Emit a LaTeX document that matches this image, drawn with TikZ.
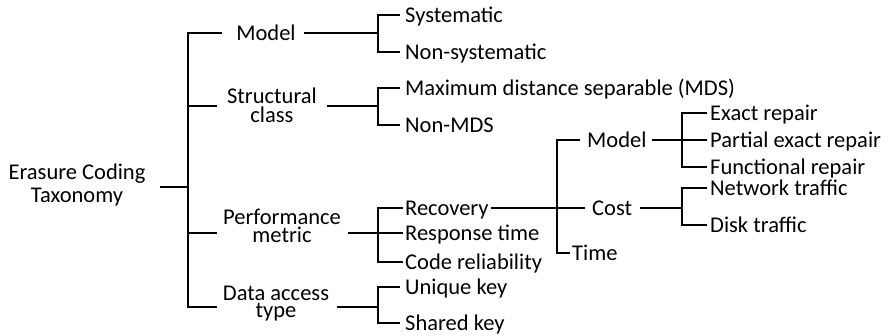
\documentclass[tikz,border=0pt]{standalone}
\usepackage{fontspec}
\setmainfont{Carlito}
\begin{document}
\begin{tikzpicture}[x=1pt,y=-1pt,
  txt/.style={font=\fontsize{22.5}{23}\selectfont, inner sep=0pt, text height=14.4pt, text depth=0pt},
  leaf/.style={txt, anchor=west},
  lbl/.style={txt, anchor=center},
  two/.style={font=\fontsize{22.5}{#1}\selectfont, inner sep=0pt, align=center, anchor=center},
  two/.default=20,
  conn/.style={line width=1.9pt},
]
\useasboundingbox (0,0) rectangle (891,335);

% nodes
\node[two=23] (root) at (77,185) {Erasure Coding\\Taxonomy};
\node[lbl] (model) at (266,33) {Model};
\node[two=19] (struct) at (272,105) {Structural\\class};
\node[two=18] (perf) at (282,226) {Performance\\metric};
\node[two=17] (data) at (276,304) {Data access\\type};

\node[leaf] (sys) at (405,15) {Systematic};
\node[leaf] (nonsys) at (405,52) {Non-systematic};
\node[leaf] (mds) at (405,88) {Maximum distance separable (MDS)};
\node[leaf] (nonmds) at (405,125) {Non-MDS};
\node[leaf] (rec) at (405,208) {Recovery};
\node[leaf] (resp) at (405,233) {Response time};
\node[leaf] (code) at (405,262) {Code reliability};
\node[leaf] (uniq) at (405,287) {Unique key};
\node[leaf] (shared) at (405,323) {Shared key};
\node[leaf] (model2) at (587,140) {Model};
\node[leaf] (cost) at (592,208) {Cost};
\node[leaf] (time) at (572,253) {Time};
\node[leaf] (exact) at (710,113) {Exact repair};
\node[leaf] (partial) at (710,140) {Partial exact repair};
\node[leaf] (func) at (710,167) {Functional repair};
\node[leaf] (net) at (710,188) {Network traffic};
\node[leaf] (disk) at (710,225) {Disk traffic};

% junctions
\coordinate (T0) at (188,187);
\coordinate (Ttop) at (188,33);
\coordinate (Tbot) at (188,307);
\coordinate (B1) at (378,33);
\coordinate (B2) at (378,106);
\coordinate (B3) at (378,233);
\coordinate (B4) at (378,307);
\coordinate (R) at (557,208);
\coordinate (M) at (682,140);
\coordinate (C) at (682,208);

% trunk
\draw[conn] ([xshift=-14pt]model.west) -| (Tbot) -- ([xshift=-6pt,yshift=-3pt]data.west);
\draw[conn] ([xshift=14pt,yshift=-2pt]root.east) -- (T0);
\draw[conn] (Ttop |- B2) -- ([xshift=-10pt,yshift=-1pt]struct.west);
\draw[conn] (Ttop |- B3) -- ([xshift=-6pt,yshift=-7pt]perf.west);

% level 1 to brackets
\draw[conn] ([xshift=8pt]model.east) -- (B1);
\draw[conn] ([xshift=10pt,yshift=-1pt]struct.east) -- (B2);
\draw[conn] ([xshift=7pt,yshift=-7pt]perf.east) -- (B3);
\draw[conn] ([xshift=8pt,yshift=-3pt]data.east) -- (B4);

% brackets
\draw[conn] ([xshift=-5pt]sys.west) -| (B1) |- ([xshift=-5pt]nonsys.west);
\draw[conn] ([xshift=-5pt]mds.west) -| (B2) |- ([xshift=-5pt]nonmds.west);
\draw[conn] ([xshift=-2pt]rec.west) -| (B3) |- ([xshift=-2pt]code.west);
\draw[conn] (B3) -- ([xshift=-2pt]resp.west);
\draw[conn] ([xshift=-5pt]uniq.west) -| (B4) |- ([xshift=-5pt]shared.west);

% recovery subtree
\draw[conn] ([xshift=2pt]rec.east) -- (R);
\draw[conn] ([xshift=-7pt]model2.west) -| (R) |- ([xshift=-2pt]time.west);
\draw[conn] (R) -- ([xshift=-7pt]cost.west);

\draw[conn] ([xshift=5pt]model2.east) -- ([xshift=-3pt]partial.west);
\draw[conn] ([xshift=-3pt]exact.west) -| (M) |- ([xshift=-3pt]func.west);
\draw[conn] ([xshift=8pt]cost.east) -- (C);
\draw[conn] ([xshift=-3pt]net.west) -| (C) |- ([xshift=-3pt]disk.west);
\end{tikzpicture}
\end{document}
